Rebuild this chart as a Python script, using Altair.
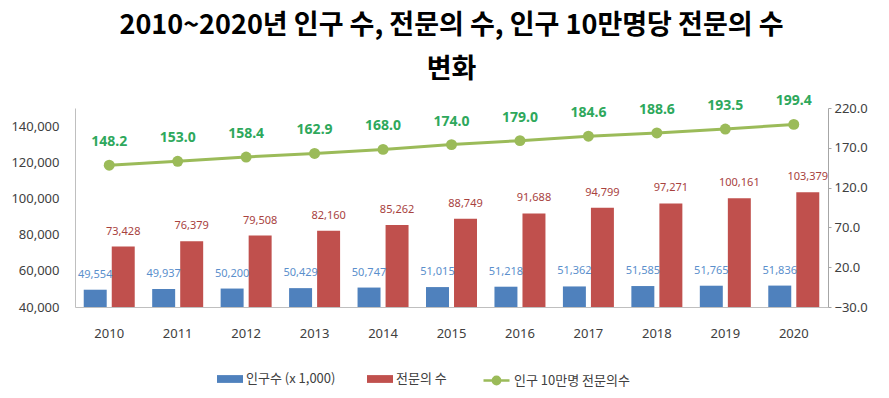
import altair as alt
import pandas as pd

years = ["2010", "2011", "2012", "2013", "2014", "2015", "2016", "2017", "2018", "2019", "2020"]
population = [49554, 49937, 50200, 50429, 50747, 51015, 51218, 51362, 51585, 51765, 51836]
doctors = [73428, 76379, 79508, 82160, 85262, 88749, 91688, 94799, 97271, 100161, 103379]
per100k = [148.2, 153.0, 158.4, 162.9, 168.0, 174.0, 179.0, 184.6, 188.6, 193.5, 199.4]
bar_series = ["인구수 (x 1,000)", "전문의 수"]
line_series = "인구 10만명 전문의수"
left_ticks = [40000, 60000, 80000, 100000, 120000, 140000]
right_ticks = [-30, 20, 70, 120, 170, 220]

KR = "Noto Sans CJK KR"
NUM = "Noto Sans"

bar_df = pd.DataFrame({
    "year": years * 2,
    "series": [bar_series[0]] * len(years) + [bar_series[1]] * len(years),
    "value": population + doctors,
})
line_df = pd.DataFrame({"year": years, "value": per100k, "series": [line_series] * len(years)})

x_enc = alt.X(
    "year:N",
    scale=alt.Scale(paddingInner=0.255, paddingOuter=0.1275),
    axis=alt.Axis(title=None, labelAngle=0, ticks=False, domainColor="#BFBFBF",
                  labelPadding=20, labelFont=NUM, labelFontSize=13, labelColor="#404040"),
)
xoff = alt.XOffset("series:N", sort=bar_series,
                   scale=alt.Scale(domain=bar_series, paddingInner=0.18, paddingOuter=0))
y_left = alt.Y(
    "value:Q",
    scale=alt.Scale(domain=[40000, 150000], nice=False, zero=False),
    axis=alt.Axis(title=None, values=left_ticks, format=",d", grid=False, ticks=False,
                  domainColor="#BFBFBF", labelPadding=16, labelFont=NUM, labelFontSize=13,
                  labelColor="#404040"),
)
y_right = alt.Y(
    "value:Q",
    scale=alt.Scale(domain=[-30, 220], nice=False, zero=False),
    axis=alt.Axis(title=None, orient="right", values=right_ticks, format=".1f", grid=False,
                  ticks=True, tickSize=3, tickColor="#A6A6A6", domainColor="#A6A6A6",
                  labelPadding=3, labelFont=NUM, labelFontSize=13, labelColor="#404040"),
)

bars = alt.Chart(bar_df).mark_bar().encode(
    x=x_enc,
    xOffset=xoff,
    y=y_left,
    y2=alt.datum(40000),
    color=alt.Color(
        "series:N", sort=bar_series,
        scale=alt.Scale(domain=bar_series, range=["#4F81BD", "#C0504D"]),
        legend=alt.Legend(orient="none", legendX=142, legendY=258, direction="horizontal",
                          title=None, symbolType="M-1,-0.3H1V0.3H-1Z", symbolSize=676,
                          symbolStrokeWidth=0, labelFont=KR, labelFontSize=13,
                          labelColor="#404040", columnPadding=31, labelOffset=3),
    ),
)

blue_labels = alt.Chart(bar_df).transform_filter(
    alt.datum.series == bar_series[0]
).mark_text(dy=-15, fontSize=11, font=NUM, color="#5B8FCC").encode(
    x=x_enc, xOffset=xoff, y=y_left, text=alt.Text("value:Q", format=",d")
)
red_labels = alt.Chart(bar_df).transform_filter(
    alt.datum.series == bar_series[1]
).mark_text(dy=-15, fontSize=11, font=NUM, color="#A8423E").encode(
    x=x_enc, xOffset=xoff, y=y_left, text=alt.Text("value:Q", format=",d")
)

line = alt.Chart(line_df).mark_line(strokeWidth=3).encode(
    x=x_enc,
    y=y_right,
    stroke=alt.Stroke(
        "series:N",
        scale=alt.Scale(domain=[line_series], range=["#9BBB59"]),
        legend=alt.Legend(orient="none", legendX=407, legendY=258, title=None,
                          symbolType="M-1,0H1M0.28,0A0.28,0.28,0,1,1,-0.28,0A0.28,0.28,0,1,1,0.28,0",
                          symbolSize=676, symbolFillColor="#9BBB59", symbolStrokeWidth=2.5,
                          labelFont=KR, labelFontSize=13, labelColor="#404040", labelOffset=3),
    ),
)
points = alt.Chart(line_df).mark_circle(size=120, color="#9BBB59", opacity=1).encode(
    x=x_enc, y=y_right
)
line_labels = alt.Chart(line_df).mark_text(dy=-23, fontSize=14, fontWeight="bold", font=NUM,
                                           color="#2EA85C").encode(
    x=x_enc, y=y_right, text=alt.Text("value:Q", format=".1f")
)

left_layer = alt.layer(bars, blue_labels, red_labels)
right_layer = alt.layer(line, points, line_labels)

chart = alt.layer(left_layer, right_layer).resolve_scale(y="independent").properties(
    width=753,
    height=199,
    autosize=alt.AutoSizeParams(type="none"),
    padding={"left": 67, "top": 100, "right": 50, "bottom": 84},
    title=alt.Title(
        ["2010~2020년 인구 수, 전문의 수, 인구 10만명당 전문의 수", "변화"],
        font=KR, fontSize=27, fontWeight="bold", color="#000000", lineHeight=44,
        anchor="middle", offset=10,
    ),
).configure_view(stroke=None)

chart.save("out.html", embed_options={"renderer": "svg", "actions": False})
